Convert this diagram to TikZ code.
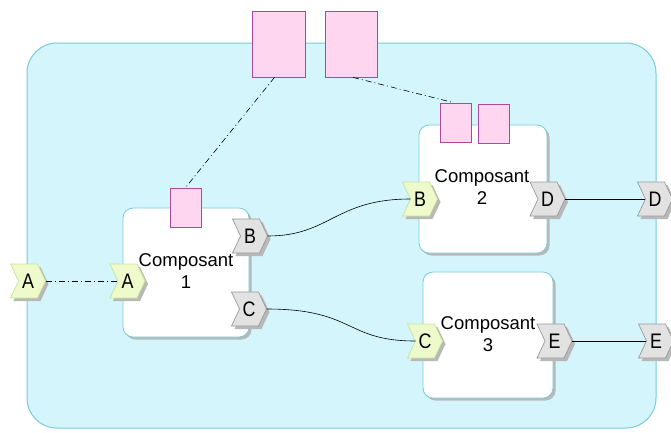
\documentclass[tikz,border=0pt]{standalone}
\usepackage{fontspec}
\setmainfont{Liberation Sans}
\usetikzlibrary{shadows,calc}
\definecolor{contfill}{HTML}{D4F5FC}
\definecolor{contdraw}{HTML}{78CCD8}
\definecolor{pinkfill}{HTML}{FFD6F0}
\definecolor{pinkdraw}{HTML}{B0489A}
\definecolor{greenfill}{HTML}{EEFACB}
\definecolor{greendraw}{HTML}{C4E49A}
\definecolor{grayfill}{HTML}{E2E2E2}
\definecolor{graydraw}{HTML}{9A9A9A}
\definecolor{shadowgray}{HTML}{B8B8B8}
\tikzset{
  pshadow/.style={drop shadow={shadow xshift=2.5pt,shadow yshift=-2.5pt,fill=shadowgray,opacity=1}},
  portlabel/.style={minimum width=35pt, minimum height=34pt, inner sep=0pt,
    font=\fontsize{21}{21}\selectfont},
  inport/.style={fill=greenfill, draw=greendraw, line width=0.7pt},
  outport/.style={fill=grayfill, draw=graydraw, line width=0.7pt},
  comp/.style={draw=contdraw, fill=white, line width=0.8pt, rounded corners=10pt,
    pshadow, inner sep=0pt},
  ctext/.style={align=center, font=\fontsize{18.5}{22}\selectfont, inner sep=0pt},
  pinkbox/.style={draw=pinkdraw, fill=pinkfill, line width=0.8pt, inner sep=0pt},
  dashdot/.style={line width=0.6pt, dash pattern=on 6pt off 3pt on 1pt off 3pt},
  wire/.style={line width=0.6pt}
}
% #1 node name, #2 x, #3 y, #4 letter, #5 style (inport/outport)
\newcommand\chevport[5]{%
  \fill[shadowgray, shift={(#2+3,#3-3)}]
    (-17.5,17) -- (9.5,17) -- (17.5,0) -- (9.5,-17) -- (-17.5,-17) -- (-9.5,0) -- cycle;
  \path[#5, shift={(#2,#3)}]
    (-17.5,17) -- (9.5,17) -- (17.5,0) -- (9.5,-17) -- (-17.5,-17) -- (-9.5,0) -- cycle;
  \node[portlabel] (#1) at (#2,#3) {\scalebox{0.85}[1]{#4}};
}
\begin{document}
\begin{tikzpicture}[x=1pt,y=1pt]
\useasboundingbox (0,0) rectangle (671,-432);
% container
\draw[fill=contfill, draw=contdraw, line width=1pt, rounded corners=30pt]
  (27,-43) rectangle (656,-428);
% top pink boxes
\node[pinkbox, minimum width=53pt, minimum height=66pt] (P1) at (278.5,-44) {};
\node[pinkbox, minimum width=52pt, minimum height=66pt] (P2) at (351,-44) {};
% components
\node[comp, minimum width=126pt, minimum height=129pt] (C1) at (186,-272.5) {};
\node[comp, minimum width=128pt, minimum height=128pt] (C2) at (483,-189) {};
\node[comp, minimum width=130pt, minimum height=126pt] (C3) at (488,-335) {};
% component labels
\node[ctext] (T1) at (186,-271) {Composant\\1};
\node[ctext] (T2) at (482,-187.5) {Composant\\2};
\node[ctext] (T3) at (488,-334) {Composant\\3};
% small pink boxes
\node[pinkbox, minimum width=31pt, minimum height=39pt] (S1) at (185.5,-207.5) {};
\node[pinkbox, minimum width=31pt, minimum height=39pt] (S2a) at (455.5,-122.5) {};
\node[pinkbox, minimum width=31pt, minimum height=39pt] (S2b) at (493.5,-123.5) {};
% ports
\chevport{Aout}{28}{-281}{A}{inport}
\chevport{Ain}{127.5}{-281}{A}{inport}
\chevport{B1}{250}{-236}{B}{outport}
\chevport{Cc1}{249}{-309}{C}{outport}
\chevport{B2}{420}{-199}{B}{inport}
\chevport{D2}{547.5}{-199}{D}{outport}
\chevport{Dout}{655}{-199}{D}{outport}
\chevport{Cc3}{425}{-341}{C}{inport}
\chevport{E3}{554.5}{-341}{E}{outport}
\chevport{Eout}{656}{-341}{E}{outport}
% connectors
\draw[dashdot] (Aout.east) -- ($(Ain.west)+(8,0)$);
\draw[wire] (B1.east) .. controls (330,-236) and (335,-199) .. ($(B2.west)+(8,0)$);
\draw[wire] (Cc1.east) .. controls (355,-309) and (345,-341) .. ($(Cc3.west)+(8,0)$);
\draw[wire] (D2.east) -- ($(Dout.west)+(8,0)$);
\draw[wire] (E3.east) -- ($(Eout.west)+(8,0)$);
\draw[dashdot] ($(P1.south)+(-4,0)$) -- (S1.north);
\draw[dashdot] ($(P2.south)+(2,0)$) -- ($(S2a.north)+(-2,0)$);
\end{tikzpicture}
\end{document}
